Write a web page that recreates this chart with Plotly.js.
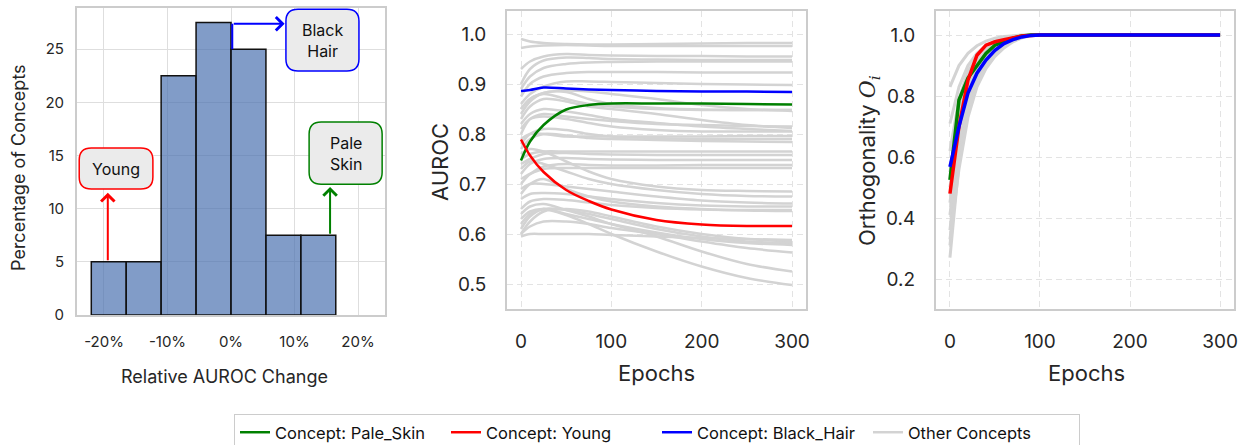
<!DOCTYPE html>
<html>
<head>
<meta charset="utf-8">
<script src="https://cdn.plot.ly/plotly-3.0.1.min.js"></script>
<style>
html,body{margin:0;padding:0;background:#fff;width:1247px;height:445px;overflow:hidden;}
#chart{width:1247px;height:445px;overflow:hidden;}
</style>
</head>
<body>
<div id="chart"></div>
<script>
// ---------- DATA ----------
// Histogram of relative AUROC change (percent of concepts per bin)
const binCenters = [-19.25, -13.75, -8.25, -2.75, 2.75, 8.25, 13.75];
const binPercent = [5, 5, 22.5, 27.5, 25, 7.5, 7.5];
const histTickVals = [-20, -10, 0, 10, 20];
const histTickText = ['-20%', '-10%', '0%', '10%', '20%'];

// AUROC over epochs
const epochsAUROC = [0, 10, 25, 50, 75, 100, 150, 200, 250, 300];
const aurocPaleSkin  = [0.747, 0.785, 0.818, 0.849, 0.858, 0.861, 0.861, 0.861, 0.860, 0.859];
const aurocYoung     = [0.789, 0.757, 0.724, 0.688, 0.666, 0.649, 0.628, 0.619, 0.616, 0.616];
const aurocBlackHair = [0.886, 0.888, 0.893, 0.891, 0.889, 0.888, 0.886, 0.885, 0.885, 0.884];
const aurocOthers = [
  [0.990, 0.985, 0.982, 0.980, 0.979, 0.979, 0.980, 0.981, 0.982, 0.982],
  [0.972, 0.975, 0.977, 0.978, 0.977, 0.976, 0.976, 0.976, 0.976, 0.976],
  [0.930, 0.945, 0.955, 0.960, 0.958, 0.957, 0.956, 0.956, 0.955, 0.955],
  [0.900, 0.930, 0.947, 0.953, 0.952, 0.950, 0.949, 0.948, 0.948, 0.948],
  [0.890, 0.915, 0.932, 0.940, 0.943, 0.944, 0.945, 0.945, 0.945, 0.945],
  [0.875, 0.900, 0.915, 0.922, 0.924, 0.924, 0.924, 0.923, 0.923, 0.923],
  [0.860, 0.880, 0.895, 0.905, 0.905, 0.904, 0.902, 0.900, 0.899, 0.898],
  [0.850, 0.870, 0.882, 0.887, 0.885, 0.880, 0.870, 0.858, 0.850, 0.846],
  [0.840, 0.865, 0.882, 0.884, 0.870, 0.860, 0.852, 0.849, 0.848, 0.848],
  [0.830, 0.855, 0.870, 0.865, 0.855, 0.850, 0.840, 0.828, 0.818, 0.812],
  [0.820, 0.840, 0.850, 0.845, 0.838, 0.830, 0.822, 0.815, 0.810, 0.806],
  [0.800, 0.830, 0.840, 0.835, 0.830, 0.826, 0.820, 0.818, 0.816, 0.815],
  [0.780, 0.800, 0.810, 0.808, 0.800, 0.795, 0.792, 0.790, 0.790, 0.790],
  [0.770, 0.790, 0.800, 0.797, 0.792, 0.790, 0.788, 0.786, 0.785, 0.784],
  [0.790, 0.800, 0.800, 0.795, 0.795, 0.795, 0.795, 0.795, 0.796, 0.796],
  [0.750, 0.760, 0.765, 0.765, 0.765, 0.765, 0.765, 0.765, 0.765, 0.765],
  [0.740, 0.750, 0.760, 0.762, 0.760, 0.759, 0.758, 0.758, 0.758, 0.758],
  [0.720, 0.740, 0.750, 0.752, 0.750, 0.749, 0.748, 0.748, 0.748, 0.748],
  [0.700, 0.720, 0.735, 0.740, 0.738, 0.737, 0.737, 0.738, 0.738, 0.738],
  [0.710, 0.720, 0.730, 0.732, 0.732, 0.732, 0.732, 0.732, 0.732, 0.732],
  [0.760, 0.770, 0.765, 0.745, 0.725, 0.710, 0.695, 0.688, 0.686, 0.685],
  [0.730, 0.745, 0.740, 0.725, 0.710, 0.700, 0.688, 0.680, 0.676, 0.675],
  [0.690, 0.700, 0.700, 0.695, 0.690, 0.685, 0.675, 0.667, 0.663, 0.661],
  [0.670, 0.680, 0.682, 0.680, 0.675, 0.670, 0.662, 0.657, 0.655, 0.655],
  [0.650, 0.665, 0.670, 0.668, 0.663, 0.658, 0.652, 0.649, 0.648, 0.648],
  [0.680, 0.700, 0.710, 0.690, 0.675, 0.665, 0.655, 0.650, 0.647, 0.646],
  [0.600, 0.625, 0.645, 0.650, 0.645, 0.635, 0.615, 0.600, 0.590, 0.585],
  [0.610, 0.635, 0.650, 0.648, 0.640, 0.630, 0.610, 0.595, 0.585, 0.582],
  [0.620, 0.640, 0.650, 0.640, 0.630, 0.620, 0.603, 0.590, 0.582, 0.578],
  [0.600, 0.615, 0.625, 0.625, 0.620, 0.612, 0.600, 0.585, 0.572, 0.563],
  [0.595, 0.600, 0.600, 0.600, 0.600, 0.598, 0.595, 0.592, 0.590, 0.588],
  [0.640, 0.655, 0.660, 0.648, 0.635, 0.620, 0.595, 0.565, 0.540, 0.525],
  [0.630, 0.645, 0.650, 0.638, 0.620, 0.600, 0.565, 0.535, 0.512, 0.498],
  [0.850, 0.870, 0.880, 0.870, 0.860, 0.855, 0.850, 0.848, 0.848, 0.848],
  [0.810, 0.830, 0.835, 0.830, 0.822, 0.815, 0.808, 0.805, 0.805, 0.805]
];

// Orthogonality over epochs
const epochsOrth = [0, 10, 20, 30, 40, 50, 60, 70, 80, 90, 100, 150, 200, 250, 300];
const orthPaleSkin  = [0.525, 0.787, 0.859, 0.900, 0.940, 0.967, 0.980, 0.990, 0.997, 1.0, 1.0, 1.0, 1.0, 1.0, 1.0];
const orthYoung     = [0.480, 0.700, 0.852, 0.934, 0.967, 0.978, 0.985, 0.992, 0.997, 0.999, 1.0, 1.0, 1.0, 1.0, 1.0];
const orthBlackHair = [0.568, 0.700, 0.810, 0.875, 0.918, 0.950, 0.972, 0.985, 0.994, 0.999, 1.0, 1.0, 1.0, 1.0, 1.0];
const orthOthers = [
  [0.83, 0.90, 0.94, 0.965, 0.980, 0.990, 0.995, 0.998, 1.0, 1.0, 1.0, 1.0, 1.0, 1.0, 1.0],
  [0.71, 0.83, 0.90, 0.940, 0.965, 0.980, 0.990, 0.996, 0.999, 1.0, 1.0, 1.0, 1.0, 1.0, 1.0],
  [0.27, 0.58, 0.76, 0.850, 0.905, 0.940, 0.965, 0.982, 0.993, 0.999, 1.0, 1.0, 1.0, 1.0, 1.0],
  [0.31, 0.61, 0.78, 0.865, 0.915, 0.948, 0.970, 0.985, 0.995, 1.0, 1.0, 1.0, 1.0, 1.0, 1.0],
  [0.36, 0.64, 0.80, 0.875, 0.922, 0.953, 0.974, 0.988, 0.996, 1.0, 1.0, 1.0, 1.0, 1.0, 1.0],
  [0.41, 0.66, 0.81, 0.885, 0.930, 0.958, 0.977, 0.990, 0.997, 1.0, 1.0, 1.0, 1.0, 1.0, 1.0],
  [0.45, 0.69, 0.83, 0.895, 0.936, 0.962, 0.980, 0.991, 0.998, 1.0, 1.0, 1.0, 1.0, 1.0, 1.0],
  [0.50, 0.72, 0.845, 0.905, 0.943, 0.967, 0.983, 0.993, 0.998, 1.0, 1.0, 1.0, 1.0, 1.0, 1.0],
  [0.55, 0.75, 0.86, 0.915, 0.950, 0.972, 0.986, 0.994, 0.999, 1.0, 1.0, 1.0, 1.0, 1.0, 1.0],
  [0.62, 0.79, 0.88, 0.930, 0.960, 0.978, 0.990, 0.996, 0.999, 1.0, 1.0, 1.0, 1.0, 1.0, 1.0],
  [0.33, 0.56, 0.73, 0.830, 0.890, 0.930, 0.958, 0.978, 0.991, 0.998, 1.0, 1.0, 1.0, 1.0, 1.0]
];

const legendNames = ['Concept: Pale_Skin', 'Concept: Young', 'Concept: Black_Hair', 'Other Concepts'];
const conceptColors = ['#008000', '#ff0000', '#0000ff', '#d3d3d3'];

// ---------- LAYOUT HELPERS ----------
// The figure is drawn a little taller than the 445px view so that the
// bottom-clipped legend (as in the reference) does not push the margins.
const W = 1247, HF = 462;
const px = v => v / W;
const py = v => 1 - v / HF;
const FONT = 'Inter, "Noto Sans", "DejaVu Sans", sans-serif';
const TXT = '#262626';

// ---------- TRACES ----------
const traces = [];
traces.push({
  type: 'bar', x: binCenters, y: binPercent, width: 5.5,
  marker: {color: 'rgba(76,114,176,0.7)', line: {color: '#111', width: 1.5}},
  xaxis: 'x', yaxis: 'y', showlegend: false, hoverinfo: 'x+y'
});

aurocOthers.forEach((ys, i) => traces.push({
  type: 'scatter', mode: 'lines', x: epochsAUROC, y: ys, xaxis: 'x2', yaxis: 'y2',
  line: {color: conceptColors[3], width: 2.5, shape: 'spline', smoothing: 0.9},
  name: legendNames[3], legendgroup: 'other', showlegend: i === 0, legendrank: 4
}));
orthOthers.forEach(ys => traces.push({
  type: 'scatter', mode: 'lines', x: epochsOrth, y: ys, xaxis: 'x3', yaxis: 'y3',
  line: {color: conceptColors[3], width: 3},
  name: legendNames[3], legendgroup: 'other', showlegend: false
}));

const aurocMain = [aurocPaleSkin, aurocYoung, aurocBlackHair];
const orthMain = [orthPaleSkin, orthYoung, orthBlackHair];
aurocMain.forEach((ys, i) => traces.push({
  type: 'scatter', mode: 'lines', x: epochsAUROC, y: ys, xaxis: 'x2', yaxis: 'y2',
  line: {color: conceptColors[i], width: 2.5, shape: 'spline', smoothing: 0.9},
  name: legendNames[i], legendgroup: 'g' + i, showlegend: true, legendrank: i + 1
}));
orthMain.forEach((ys, i) => traces.push({
  type: 'scatter', mode: 'lines', x: epochsOrth, y: ys, xaxis: 'x3', yaxis: 'y3',
  line: {color: conceptColors[i], width: 3.5},
  name: legendNames[i], legendgroup: 'g' + i, showlegend: false
}));

// ---------- AXES ----------
function axisBase(extra) {
  return Object.assign({
    showline: true, mirror: true, linecolor: '#cccccc', linewidth: 2,
    showgrid: true, gridcolor: '#dedede', gridwidth: 1, zeroline: false,
    ticks: 'outside', tickcolor: 'rgba(0,0,0,0)', automargin: false,
    tickfont: {family: FONT, size: 19, color: TXT}, fixedrange: true
  }, extra);
}

// rounded box path in data units
function roundBox(x0, x1, y0, y1, rx, ry) {
  return `M${x0 + rx},${y0} L${x1 - rx},${y0} Q${x1},${y0} ${x1},${y0 + ry} ` +
         `L${x1},${y1 - ry} Q${x1},${y1} ${x1 - rx},${y1} L${x0 + rx},${y1} ` +
         `Q${x0},${y1} ${x0},${y1 - ry} L${x0},${y0 + ry} Q${x0},${y0} ${x0 + rx},${y0} Z`;
}
const boxes = [
  {x0: -23.9, x1: -12.3, y0: 11.85, y1: 15.7, color: '#ff0000', text: 'Young', tx: -18.1, ty: 13.75},
  {x0: 8.65, x1: 20.15, y0: 22.95, y1: 28.75, color: '#0000ff', text: 'Black<br>Hair', tx: 14.4, ty: 25.85},
  {x0: 12.3, x1: 23.8, y0: 12.3, y1: 18.15, color: '#008000', text: 'Pale<br>Skin', tx: 18.05, ty: 15.2}
];
const shapes = boxes.map(b => ({
  type: 'path', xref: 'x', yref: 'y', layer: 'above',
  path: roundBox(b.x0, b.x1, b.y0, b.y1, 1.9, 1.13),
  fillcolor: '#ebebeb', line: {color: b.color, width: 1.5}
}));
shapes.push({type: 'line', xref: 'x', yref: 'y', x0: 0.2, x1: 0.2, y0: 25, y1: 27.4,
  line: {color: '#0000ff', width: 2}, layer: 'above'});

const annotations = [];
boxes.forEach(b => annotations.push({
  xref: 'x', yref: 'y', x: b.tx, y: b.ty, text: b.text, showarrow: false,
  font: {family: FONT, size: 16, color: '#111'}
}));
const arrows = [
  {x: -19.4, y: 11.5, ax: -19.4, ay: 5, color: '#ff0000'},
  {x: 15.6, y: 12.05, ax: 15.6, ay: 7.5, color: '#008000'},
  {x: 8.45, y: 27.4, ax: 0.2, ay: 27.4, color: '#0000ff'}
];
arrows.forEach(a => annotations.push({
  xref: 'x', yref: 'y', axref: 'x', ayref: 'y', x: a.x, y: a.y, ax: a.ax, ay: a.ay,
  text: '', showarrow: true, arrowhead: 4, arrowsize: 1.3, arrowwidth: 2, arrowcolor: a.color,
  standoff: 0, startstandoff: 0
}));

// axis titles
const titles = [
  {x: 224, y: 376, text: 'Relative AUROC Change', size: 18, angle: 0},
  {x: 18, y: 168, text: 'Percentage of Concepts', size: 18, angle: -90},
  {x: 656, y: 373, text: 'Epochs', size: 22, angle: 0},
  {x: 440, y: 162, text: 'AUROC', size: 22, angle: -90},
  {x: 1086, y: 373, text: 'Epochs', size: 22, angle: 0},
  {x: 869, y: 161, text: 'Orthogonality <span style="font-family:\'DejaVu Serif\'"><i>O<sub>i</sub></i></span>', size: 22, angle: -90}
];
titles.forEach(t => annotations.push({
  xref: 'paper', yref: 'paper', x: px(t.x), y: py(t.y), xanchor: 'center', yanchor: 'middle',
  text: t.text, textangle: t.angle, showarrow: false, font: {family: FONT, size: t.size, color: TXT}
}));

const layout = {
  width: W, height: HF, margin: {l: 0, r: 0, t: 0, b: 0},
  paper_bgcolor: '#ffffff', plot_bgcolor: '#ffffff',
  font: {family: FONT, color: TXT},
  showlegend: true,
  xaxis: axisBase({domain: [px(77), px(385)], range: [-24.25, 24.25], anchor: 'y',
    tickvals: histTickVals, ticktext: histTickText, ticklen: 12,
    tickfont: {family: FONT, size: 15, color: TXT}}),
  yaxis: axisBase({domain: [py(315), py(8)], range: [0, 28.875], anchor: 'x',
    tickvals: [0, 5, 10, 15, 20, 25], ticklen: 8,
    tickfont: {family: FONT, size: 15, color: TXT}}),
  xaxis2: axisBase({domain: [px(507), px(806)], range: [-15.5, 315.5], anchor: 'y2',
    tickvals: [0, 100, 200, 300], ticklen: 14, griddash: '6px,4px', gridcolor: '#e3e3e3'}),
  yaxis2: axisBase({domain: [py(309), py(11)], range: [0.45, 1.046], anchor: 'x2',
    tickvals: [0.5, 0.6, 0.7, 0.8, 0.9, 1.0], tickformat: '.1f', ticklen: 15,
    griddash: '6px,4px', gridcolor: '#e3e3e3'}),
  xaxis3: axisBase({domain: [px(936), px(1234)], range: [-15.5, 315.5], anchor: 'y3',
    tickvals: [0, 100, 200, 300], ticklen: 14, griddash: '6px,4px', gridcolor: '#e3e3e3'}),
  yaxis3: axisBase({domain: [py(309), py(11)], range: [0.1016, 1.079], anchor: 'x3',
    tickvals: [0.2, 0.4, 0.6, 0.8, 1.0], tickformat: '.1f', ticklen: 15,
    griddash: '6px,4px', gridcolor: '#e3e3e3'}),
  legend: {orientation: 'h', x: px(657), xanchor: 'center', y: py(414), yanchor: 'top',
    bordercolor: '#cccccc', borderwidth: 1, bgcolor: '#ffffff',
    font: {family: FONT, size: 16.5, color: '#111'}, traceorder: 'normal', itemwidth: 30,
    entrywidth: 166, entrywidthmode: 'pixels'},
  shapes: shapes,
  annotations: annotations
};

Plotly.newPlot('chart', traces, layout, {displayModeBar: false, staticPlot: true});
</script>
</body>
</html>
